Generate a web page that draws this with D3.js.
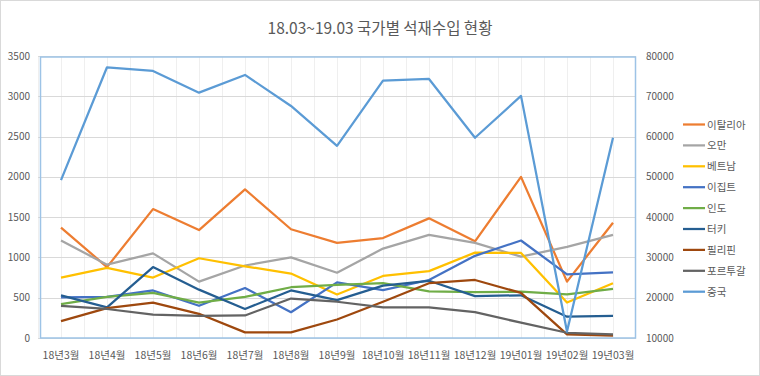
<!DOCTYPE html>
<html>
<head>
<meta charset="utf-8">
<script src="https://cdn.jsdelivr.net/npm/d3@7"></script>
<style>
  body { margin: 0; background: #fff; }
  svg text { font-family: "Noto Sans CJK KR", "Noto Sans", sans-serif; fill: #595959; }
</style>
</head>
<body>
<div id="chart"></div>
<script>
// months on the category axis
var months = ["18년3월", "18년4월", "18년5월", "18년6월", "18년7월", "18년8월", "18년9월",
              "18년10월", "18년11월", "18년12월", "19년01월", "19년02월", "19년03월"];

var leftTicks = [0, 500, 1000, 1500, 2000, 2500, 3000, 3500];
var rightTicks = [10000, 20000, 30000, 40000, 50000, 60000, 70000, 80000];

// left axis series
var italy    = [1370, 880, 1600, 1340, 1845, 1350, 1180, 1240, 1485, 1200, 2000, 700, 1430];
var oman     = [1210, 910, 1050, 700, 900, 1000, 810, 1110, 1280, 1180, 1010, 1130, 1280];
var vietnam  = [750, 870, 750, 990, 890, 800, 540, 770, 830, 1060, 1055, 440, 680];
var egypt    = [505, 510, 590, 400, 620, 320, 690, 595, 720, 1020, 1210, 790, 815];
var india    = [420, 510, 560, 440, 510, 630, 660, 680, 580, 570, 575, 540, 610];
var turkey   = [530, 380, 880, 600, 360, 590, 470, 650, 710, 520, 530, 265, 275];
var phil     = [210, 370, 440, 300, 70, 70, 230, 450, 680, 720, 560, 45, 30];
var portugal = [400, 360, 290, 275, 280, 490, 450, 380, 380, 320, 190, 65, 45];
// right axis series
var china    = [49200, 77200, 76300, 70900, 75300, 67600, 57700, 73900, 74300, 59700, 70100, 11600, 59700];

var names  = ["이탈리아", "오만", "베트남", "이집트", "인도", "터키", "필리핀", "포르투갈", "중국"];
var colors = ["#ED7D31", "#A5A5A5", "#FFC000", "#4472C4", "#70AD47", "#255E91", "#9E480E", "#636363", "#5B9BD5"];
var values = [italy, oman, vietnam, egypt, india, turkey, phil, portugal, china];

(function () {
    var W = 760, H = 376;
    var pTop = 56, pBottom = 338, pLeft = 38, pRight = 636;

    var svg = d3.select("#chart").append("svg")
        .attr("width", W)
        .attr("height", H);

    svg.append("rect")
        .attr("x", 0.5).attr("y", 0.5)
        .attr("width", W - 1).attr("height", H - 1)
        .attr("fill", "#fff")
        .attr("stroke", "#d9d9d9");

    var x = d3.scaleBand().domain(months).range([pLeft, pRight]);
    var yL = d3.scaleLinear().domain([0, 3500]).range([pBottom, pTop]);
    var yR = d3.scaleLinear().domain([10000, 80000]).range([pBottom, pTop]);
    var cx = function (m) { return x(m) + x.bandwidth() / 2; };

    // vertical gridlines at band centers and edges
    var vlines = [];
    months.forEach(function (m) { vlines.push(x(m)); vlines.push(cx(m)); });
    svg.append("g").selectAll("line")
        .data(vlines)
      .enter().append("line")
        .attr("x1", function (d) { return Math.round(d) + 0.5; })
        .attr("x2", function (d) { return Math.round(d) + 0.5; })
        .attr("y1", pTop)
        .attr("y2", pBottom)
        .attr("stroke", "#efefef");

    svg.append("g").selectAll("line")
        .data(leftTicks)
      .enter().append("line")
        .attr("x1", pLeft).attr("x2", pRight)
        .attr("y1", function (d) { return Math.round(yL(d)) + 0.5; })
        .attr("y2", function (d) { return Math.round(yL(d)) + 0.5; })
        .attr("stroke", "#d9d9d9");

    // plot area box
    svg.append("rect")
        .attr("x", 40.5).attr("y", 57)
        .attr("width", 595).attr("height", 281)
        .attr("fill", "none")
        .attr("stroke", "#9DC3E6")
        .attr("stroke-width", 1.5);

    // axis labels
    svg.append("g").selectAll("text")
        .data(leftTicks)
      .enter().append("text")
        .attr("x", 30)
        .attr("y", function (d) { return yL(d) + 3.5; })
        .attr("text-anchor", "end")
        .style("font-size", "10px")
        .text(function (d) { return d; });

    svg.append("g").selectAll("text")
        .data(rightTicks)
      .enter().append("text")
        .attr("x", 646)
        .attr("y", function (d) { return yR(d) + 3.5; })
        .style("font-size", "10px")
        .text(function (d) { return d; });

    svg.append("g").selectAll("text")
        .data(months)
      .enter().append("text")
        .attr("x", cx)
        .attr("y", 359)
        .attr("text-anchor", "middle")
        .style("font-size", "10.5px")
        .text(function (d) { return d; });

    // lines
    values.forEach(function (vals, i) {
        var y = i === 8 ? yR : yL;
        var line = d3.line()
            .x(function (d, j) { return cx(months[j]); })
            .y(function (d) { return y(d); });
        svg.append("path")
            .datum(vals)
            .attr("d", line)
            .attr("fill", "none")
            .attr("stroke", colors[i])
            .attr("stroke-width", 2.25)
            .attr("stroke-linejoin", "round");
    });

    // legend
    var lg = svg.append("g").selectAll("g")
        .data(names)
      .enter().append("g")
        .attr("transform", function (d, i) { return "translate(683," + (124.5 + i * 20.9) + ")"; });
    lg.append("line")
        .attr("x1", 0).attr("x2", 22)
        .attr("stroke", function (d, i) { return colors[i]; })
        .attr("stroke-width", 2.25);
    lg.append("text")
        .attr("x", 24)
        .attr("y", 4)
        .style("font-size", "10.5px")
        .text(function (d) { return d; });

    svg.append("text")
        .attr("x", 380)
        .attr("y", 34)
        .attr("text-anchor", "middle")
        .style("font-size", "15.5px")
        .text("18.03~19.03 국가별 석재수입 현황");
})();
</script>
</body>
</html>
